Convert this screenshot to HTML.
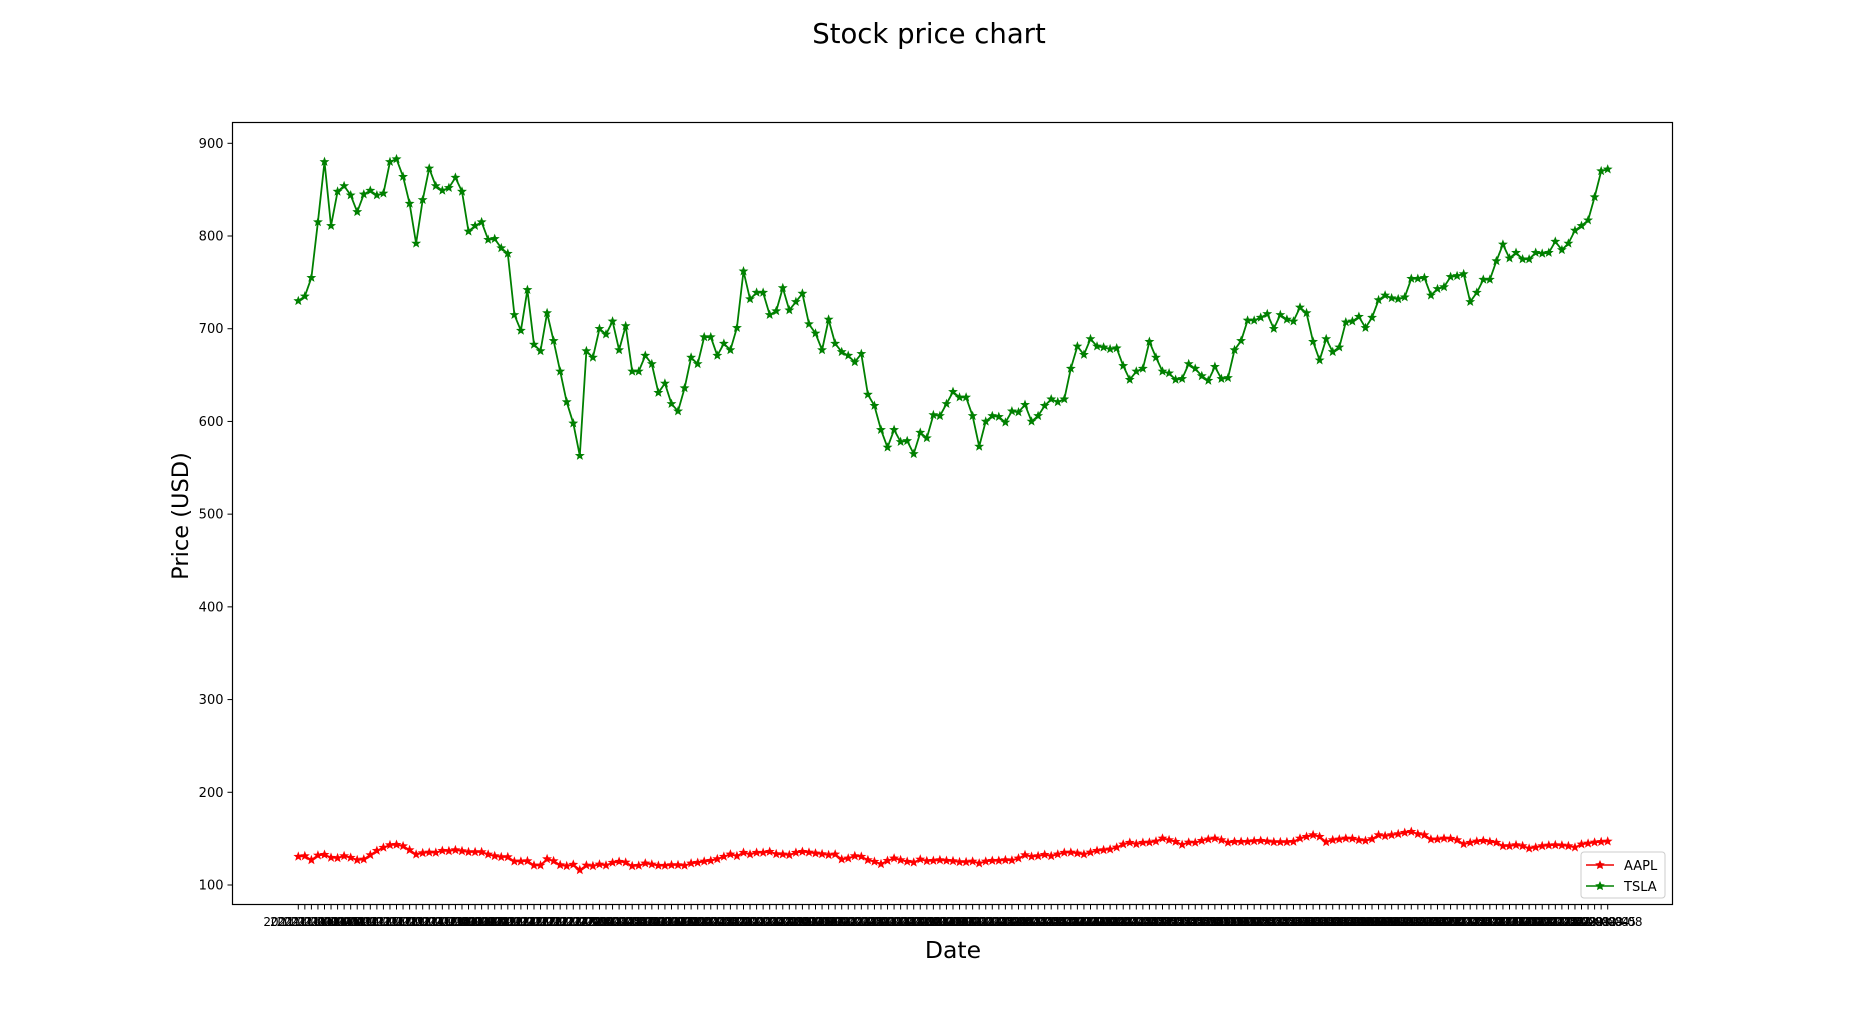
<!DOCTYPE html>
<html><head><meta charset="utf-8"><style>
html,body{margin:0;padding:0;background:#fff;}
svg{display:block;font-family:"DejaVu Sans","Liberation Sans",sans-serif;}
</style></head><body>
<svg id="chart" width="1857" height="1017" viewBox="0 0 1857 1017" xmlns="http://www.w3.org/2000/svg">
<rect width="1857" height="1017" fill="#fff"/>
<text x="929" y="43" font-size="27.5" text-anchor="middle">Stock price chart</text>
<g id="plot"></g>
<text x="0" y="0" font-size="22.5" text-anchor="middle" transform="translate(188,516) rotate(-90)">Price (USD)</text>
<text x="953" y="958" font-size="23.5" text-anchor="middle">Date</text>
<g>
<rect x="1581" y="852" width="84" height="46" rx="3" fill="#fff" stroke="#ccc"/>
<line x1="1586" y1="865" x2="1614" y2="865" stroke="#e00" stroke-width="1.6"/>
<polygon points="1600,860 1601.4,863.1 1604.8,863.5 1602.3,865.8 1603,869.1 1600,867.5 1597,869.1 1597.7,865.8 1595.2,863.5 1598.6,863.1" fill="#e00"/>
<text x="1624" y="870" font-size="13">AAPL</text>
<line x1="1586" y1="886" x2="1614" y2="886" stroke="green" stroke-width="1.6"/>
<polygon points="1600,881 1601.4,884.1 1604.8,884.5 1602.3,886.8 1603,890.1 1600,888.5 1597,890.1 1597.7,886.8 1595.2,884.5 1598.6,884.1" fill="green"/>
<text x="1624" y="891" font-size="13">TSLA</text>
</g>
</svg>
<script>
const yTicks = [100,200,300,400,500,600,700,800,900];
const tslaValues = [730,735,755,815,880,811,848,854,844,826,845,849,844,846,880,883,864,835,792,839,873,854,849,852,863,848,805,811,815,796,797,787,781,715,698,742,683,676,717,687,654,621,598,563,676,669,700,694,708,677,703,
654,654,671,662,631,641,619,611,636,669,662,691,691,671,684,677,701,762,732,739,739,715,719,744,720,729,738,705,695,677,710,684,675,671,664,673,629,617,591,572,591,578,579,565,588,582,607,606,619,632,626,
626,606,573,600,606,605,599,611,610,618,600,606,617,624,621,624,657,681,672,689,681,680,678,679,660,645,654,657,686,669,654,652,645,646,662,657,649,644,659,646,647,677,687,709,709,712,716,700,715,710,
708,723,717,686,666,689,675,680,707,708,713,701,712,731,736,733,732,734,754,754,755,736,743,745,756,757,759,729,739,753,753,773,791,776,782,775,775,782,781,782,794,785,792,806,811,817,842,870,872];
const aaplValues = [130.6,131.3,127,132,132.7,129.5,129.1,131.3,129.5,127,127.7,132.4,137,140.3,143.1,143.5,142,137.7,133,134.5,135.2,134.9,137,136.7,137.7,136.7,135.6,135.6,135.6,133,131.3,130.2,130.2,125.5,125.5,125.9,121.2,121.2,128,125.9,121.6,120.5,122,116.2,121.2,120.5,122.3,121.2,124.1,125.2,124.4,120.5,120.9,123.4,122.3,120.9,120.9,121.6,121.6,120.9,123.4,124.1,125.5,126.2,128,130.6,
133.1,131.3,134.9,133.1,134.9,134.9,135.9,133.4,133.1,132.4,134.9,135.9,135.2,134.2,133.4,132.4,133.1,127.7,128.8,131.3,130.6,127,125.2,122.6,126.2,128.8,127,125.2,124.4,127.7,125.9,126.2,127,126.2,125.9,124.8,124.8,125.5,123.4,125.5,126.2,126.2,127,126.6,128.8,132.4,130.6,131.3,132.7,131.3,133.1,134.9,135.2,134.2,133.1,135.2,137,137.7,138.5,140.6,143.9,145.7,144.2,145.7,146,147.1,150.3,148.5,146.7,143.5,146,145.7,
147.8,149.3,150.3,148.5,145.7,146.7,146.7,146.7,147.5,147.8,147.1,146.4,146.4,146.4,146.7,150.3,152.1,153.9,152.1,146.4,148.5,149.3,150.3,150,148.5,147.8,149.6,153.9,152.8,153.9,155,156.4,157.5,155,153.9,149.3,149.3,150.3,150,148.5,144.2,145.7,147.1,147.8,146.7,145.7,142.1,142.1,143.1,142.1,139.5,140.6,142.1,142.8,143.1,142.8,142.1,140.6,143.9,144.9,146,146.6,147.1];
const dateLabels = [];
(function(){let d=new Date(Date.UTC(2021,10,1));while(dateLabels.length<tslaValues.length){const w=d.getUTCDay();if(w!==0&&w!==6)dateLabels.push(d.toISOString().slice(0,10));d=new Date(d.getTime()+86400000);}})();

const NS="http://www.w3.org/2000/svg";
const L=232.5,R=1672.5,T=122.5,B=904.5;
const X0=298.3,X1=1607.7;
const n=Math.max(tslaValues.length,aaplValues.length);
const xs=i=>X0+i*(X1-X0)/(n-1);
const ys=v=>143.3+(900-v)*(885-143.3)/800;
const plot=document.getElementById('plot');
function mk(tag,attrs,parent){const e=document.createElementNS(NS,tag);for(const k in attrs)e.setAttribute(k,attrs[k]);(parent||plot).appendChild(e);return e;}
function star(cx,cy,r){const p=[];for(let k=0;k<10;k++){const a=-Math.PI/2+k*Math.PI/5;const rr=k%2?r*0.42:r;p.push((cx+rr*Math.cos(a)).toFixed(1)+','+(cy+rr*Math.sin(a)).toFixed(1));}return p.join(' ');}

const frame=mk('rect',{x:L,y:T,width:R-L,height:B-T,fill:'none',stroke:'#000','stroke-width':1.2});



yTicks.forEach(v=>{
  const y=ys(v);
  const t=mk('line',{x1:L-5,x2:L,y1:y,y2:y,stroke:'#000','stroke-width':1});
  
  
  const tx=mk('text',{x:L-9,y:y+4.5,'font-size':13,'text-anchor':'end'});
  tx.textContent=v;
  
  
});

dateLabels.forEach((d,i)=>{
  const x=xs(i);
  const t=mk('line',{x1:x,x2:x,y1:B,y2:B+5,stroke:'#000','stroke-width':1});
  
  
  const tx=mk('text',{x:x,y:926,'font-size':12,'text-anchor':'middle'});
  tx.textContent=d;
  
  
});

function series(vals,color,name){
  const pts=vals.map((v,i)=>xs(i).toFixed(1)+','+ys(v).toFixed(1)).join(' ');
  const pl=mk('polyline',{points:pts,fill:'none',stroke:color,'stroke-width':1.8,'stroke-linejoin':'round'});
  
  
  vals.forEach((v,i)=>{
    const m=mk('polygon',{points:star(xs(i),ys(v),5.2),fill:color});
    
    
  });
}
series(aaplValues,'#ff0000','aapl');
series(tslaValues,'#008000','tsla');
</script>
</body></html>
